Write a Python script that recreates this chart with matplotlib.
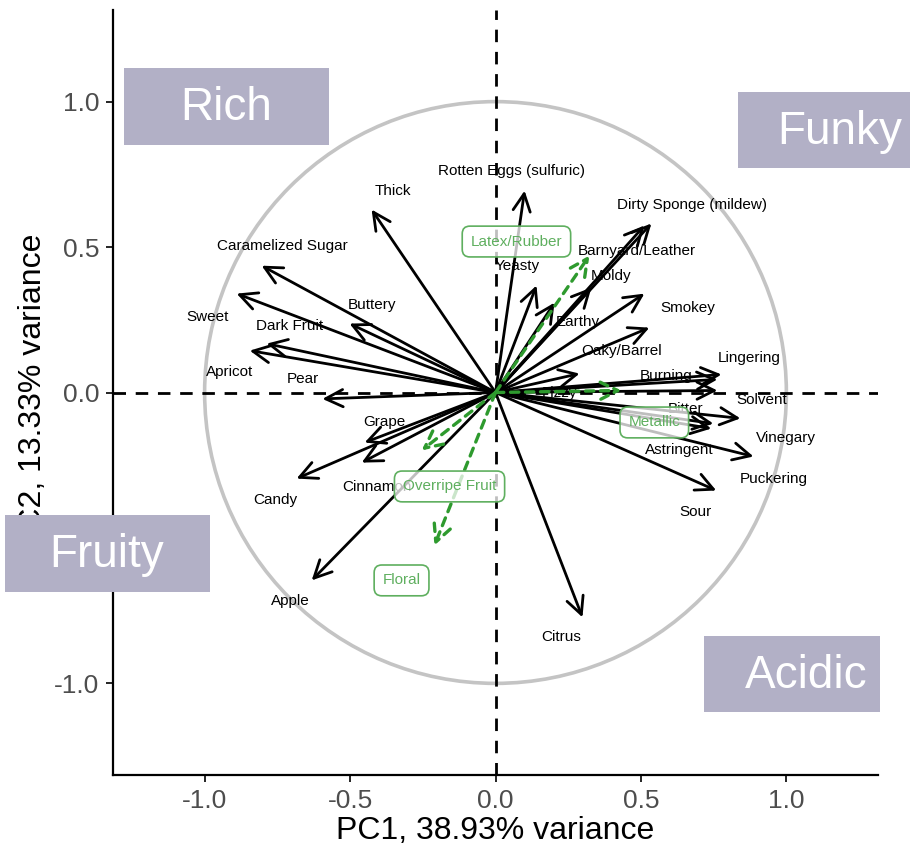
import matplotlib

matplotlib.use("Agg")
import matplotlib.pyplot as plt
from matplotlib.patches import Circle, Rectangle

plt.rcParams["font.family"] = ["Liberation Sans", "DejaVu Sans"]

# loadings of the sensory attributes on PC1 / PC2
attributes = [
    "Rotten Eggs (sulfuric)", "Thick", "Caramelized Sugar", "Dirty Sponge (mildew)",
    "Barnyard/Leather", "Yeasty", "Moldy", "Buttery", "Sweet", "Dark Fruit",
    "Smokey", "Earthy", "Oaky/Barrel", "Apricot", "Pear", "Lingering", "Burning",
    "Fizzy", "Solvent", "Bitter", "Grape", "Vinegary", "Astringent", "Puckering",
    "Candy", "Cinnamon", "Sour", "Apple", "Citrus",
]
pc1 = [0.100, -0.426, -0.804, 0.536, 0.512, 0.141, 0.330, -0.502, -0.890, -0.787,
       0.512, 0.203, 0.529, -0.845, -0.595, 0.777, 0.763, 0.289, 0.763, 0.749,
       -0.450, 0.842, 0.742, 0.887, -0.684, -0.460, 0.759, -0.632, 0.299]
pc2 = [0.694, 0.629, 0.436, 0.581, 0.574, 0.368, 0.361, 0.237, 0.340, 0.168,
       0.340, 0.309, 0.223, 0.144, -0.022, 0.062, 0.045, 0.065, 0.007, -0.107,
       -0.172, -0.089, -0.124, -0.220, -0.296, -0.241, -0.337, -0.646, -0.773]

# supplementary attributes (green, dashed)
supp_attributes = ["Latex/Rubber", "Metallic", "Overripe Fruit", "Floral"]
supp_pc1 = [0.323, 0.433, -0.254, -0.210]
supp_pc2 = [0.471, 0.007, -0.199, -0.526]

# where each label sits relative to its arrow tip (layout only)
label_dx = [-0.045, 0.072, 0.072, 0.138, -0.027, -0.065, 0.069, 0.076, -0.100, 0.079,
            0.148, 0.079, -0.096, -0.069, -0.068, 0.096, -0.175, -0.069, 0.151, -0.096,
            0.069, 0.158, -0.110, 0.068, -0.072, 0.051, -0.072, -0.072, -0.072]
label_dy = [0.069, 0.065, 0.066, 0.062, -0.086, 0.068, 0.041, 0.065, -0.082, 0.062,
            -0.051, -0.068, -0.079, -0.075, 0.067, 0.058, 0.013, -0.065, -0.034, 0.049,
            0.072, -0.066, -0.072, -0.076, -0.075, -0.085, -0.075, -0.072, -0.069]
supp_dx = [-0.251, 0.113, 0.096, -0.113]
supp_dy = [0.048, -0.110, -0.124, -0.120]

quadrants = ["Rich", "Funky", "Fruity", "Acidic"]

W, H = 910, 859
fig = plt.figure(figsize=(W / 100, H / 100), dpi=100)
ax = fig.add_axes([113 / W, 1 - 775 / H, 765 / W, 765 / H])

lim = 1.315
ax.set_xlim(-lim, lim)
ax.set_ylim(-lim, lim)

ax.add_patch(Circle((0, 0), 1, fill=False, color="#c4c4c4", lw=2.6, zorder=1))
ax.axhline(0, color="black", lw=2, ls=(0, (4.5, 3.5)), zorder=1)
ax.axvline(0, color="black", lw=2, ls=(0, (4.5, 3.5)), zorder=1)

black_head = "->,head_length=1.25,head_width=0.62"
for name, x, y, dx, dy in zip(attributes, pc1, pc2, label_dx, label_dy):
    ax.annotate("", xy=(x, y), xytext=(0, 0),
                arrowprops=dict(arrowstyle=black_head, color="black", lw=2,
                                shrinkA=0, shrinkB=0), zorder=3)
    ax.text(x + dx, y + dy, name, ha="center", va="center", fontsize=11,
            color="black", zorder=4)

green = "#2e9a2e"
label_green = "#5faf5f"
for name, x, y, dx, dy in zip(supp_attributes, supp_pc1, supp_pc2, supp_dx, supp_dy):
    ax.annotate("", xy=(x, y), xytext=(0, 0),
                arrowprops=dict(arrowstyle=black_head, color=green, lw=2.4,
                                ls=(0, (2.5, 2)), shrinkA=0, shrinkB=0), zorder=5)
    ax.text(x + dx, y + dy, name, ha="center", va="center", fontsize=11,
            color=label_green, zorder=6,
            bbox=dict(boxstyle="round,pad=0.55,rounding_size=0.5",
                      fc=(1, 1, 1, 0.75), ec=label_green, lw=1.2))

for side in ["top", "right"]:
    ax.spines[side].set_visible(False)
for side in ["left", "bottom"]:
    ax.spines[side].set_linewidth(1.6)

ticks = [-1.0, -0.5, 0.0, 0.5, 1.0]
ax.set_xticks(ticks)
ax.set_yticks(ticks)
ax.set_xticklabels([f"{t:.1f}" for t in ticks])
ax.set_yticklabels([f"{t:.1f}" for t in ticks])
ax.tick_params(labelsize=19, colors="#4d4d4d", length=5, width=1.2, pad=5)
ax.tick_params(color="black")

ax.set_xlabel("PC1, 38.93% variance", fontsize=23, labelpad=2)
ax.set_ylabel("PC2, 13.33% variance", fontsize=23, labelpad=4)

# quadrant tags (figure pixels: left, top, right, bottom)
boxes = [(124, 68, 329, 145), (738, 92, 930, 168), (5, 515, 210, 592), (704, 636, 880, 712)]
text_centers = [(226, 108), (840, 132), (107, 555), (806, 676)]
for label, (l, t, r, b), (cx, cy) in zip(quadrants, boxes, text_centers):
    fig.add_artist(Rectangle((l / W, 1 - b / H), (r - l) / W, (b - t) / H,
                             transform=fig.transFigure, fc="#b2b0c6", ec="none",
                             zorder=10))
    fig.text(cx / W, 1 - cy / H, label, ha="center", va="center", fontsize=33,
             color="white", zorder=11)

fig.savefig("out.png", dpi=100)
